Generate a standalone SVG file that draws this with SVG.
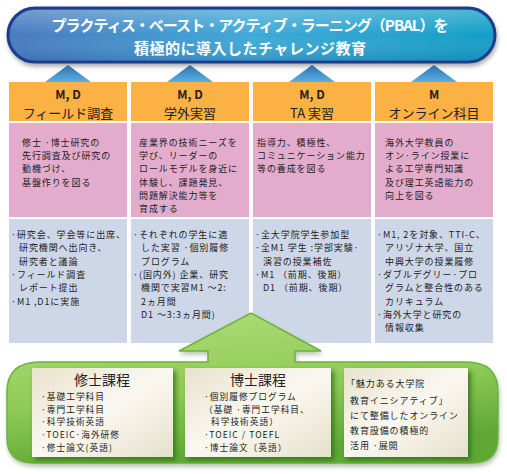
<svg xmlns="http://www.w3.org/2000/svg" width="507" height="474" viewBox="0 0 507 474">
<defs>
<linearGradient id="gTitle" x1="0" y1="0" x2="1" y2="0">
<stop offset="0" stop-color="#4a79bf"/>
<stop offset="0.5" stop-color="#3fa9d6"/>
<stop offset="1" stop-color="#139ec6"/>
</linearGradient>
<linearGradient id="gTitleV" x1="0" y1="0" x2="0" y2="1">
<stop offset="0" stop-color="#ffffff" stop-opacity="0.25"/>
<stop offset="0.5" stop-color="#ffffff" stop-opacity="0"/>
<stop offset="1" stop-color="#0a2a70" stop-opacity="0.15"/>
</linearGradient>
<linearGradient id="gTri" x1="0" y1="0" x2="0" y2="1">
<stop offset="0" stop-color="#2b74b6"/>
<stop offset="1" stop-color="#5aaedf"/>
</linearGradient>
<linearGradient id="gGreen" x1="0" y1="0" x2="0.3" y2="1">
<stop offset="0" stop-color="#b3dd7c"/>
<stop offset="0.6" stop-color="#8fca56"/>
<stop offset="1" stop-color="#5ea835"/>
</linearGradient>
<linearGradient id="gCream" x1="0" y1="0" x2="1" y2="1">
<stop offset="0" stop-color="#e8e2cc"/>
<stop offset="0.5" stop-color="#fbf8f1"/>
<stop offset="1" stop-color="#e6e0ca"/>
</linearGradient>
<filter id="shTitle" x="-5%" y="-20%" width="110%" height="150%">
<feDropShadow dx="1" dy="3" stdDeviation="2" flood-color="#555" flood-opacity="0.5"/>
</filter>
<filter id="shBox" x="-10%" y="-10%" width="125%" height="130%">
<feDropShadow dx="3" dy="3" stdDeviation="2.5" flood-color="#2f6a18" flood-opacity="0.8"/>
</filter>
<filter id="shPanel" x="-5%" y="-10%" width="110%" height="130%">
<feDropShadow dx="1" dy="3" stdDeviation="2" flood-color="#7a8a70" flood-opacity="0.5"/>
</filter>
</defs>
<style>
text{font-family:"Noto Sans CJK JP","Noto Sans",sans-serif;fill:#222;}
.title{font-size:15px;font-weight:bold;fill:#fff;text-anchor:middle;}
.hd1{font-size:12px;font-weight:bold;text-anchor:middle;}
.hd2{font-size:13px;text-anchor:middle;}
.t{font-size:9px;letter-spacing:0.9px;}
.s{font-size:8.7px;letter-spacing:1px;}
.bt{font-size:14px;text-anchor:middle;}
.orange{fill:#fbb144;}
.pink{fill:#e3accc;}
.blue{fill:#cdd7e8;}
.tri{fill:url(#gTri);}
.cream{fill:url(#gCream);filter:url(#shBox);}
</style>
<rect width="507" height="474" fill="#fff"/>

<g id="connectors">
<polygon class="tri" points="45,82 68,65 91,82"/>
<polygon class="tri" points="167,82 190,65 213,82"/>
<polygon class="tri" points="289,82 312,65 335,82"/>
<polygon class="tri" points="411,82 434,65 457,82"/>
</g>

<g id="title">
<rect x="8" y="8" width="487" height="54" rx="27" fill="url(#gTitle)" stroke="#1c3e8e" stroke-width="3" filter="url(#shTitle)"/>
<rect x="10" y="10" width="483" height="50" rx="25" fill="url(#gTitleV)"/>
<text class="title" x="250" y="31" textLength="397" lengthAdjust="spacing">プラクティス・ベースト・アクティブ・ラーニング（PBAL）を</text>
<text class="title" x="250" y="54" textLength="232" lengthAdjust="spacing">積極的に導入したチャレンジ教育</text>
</g>

<g id="col1">
<rect class="orange" x="9" y="82" width="118" height="39"/>
<text class="hd1" x="68" y="98.5">M, D</text>
<text class="hd2" x="68" y="117.5">フィールド調査</text>
<rect class="pink" x="9" y="123" width="118" height="94"/>
<text class="t" x="22" y="146">修士 ·博士研究の</text>
<text class="t" x="22" y="159.2">先行調査及び研究の</text>
<text class="t" x="22" y="172.4">動機づけ、</text>
<text class="t" x="22" y="185.6">基盤作りを図る</text>
<rect class="blue" x="9" y="219" width="118" height="124"/>
<text class="t" x="11" y="238">·研究会、学会等に出席、</text>
<text class="t" x="19" y="251.3">研究機関へ出向き、</text>
<text class="t" x="19" y="264.6">研究者と議論</text>
<text class="t" x="11" y="278">·フィールド調査</text>
<text class="t" x="19" y="291.3">レポート提出</text>
<text class="t" x="11" y="304.6">·M1 ,D1に実施</text>
</g>

<g id="col2">
<rect class="orange" x="131" y="82" width="118" height="39"/>
<text class="hd1" x="190" y="98.5">M, D</text>
<text class="hd2" x="190" y="117.5">学外実習</text>
<rect class="pink" x="131" y="123" width="118" height="94"/>
<text class="t" x="139" y="146">産業界の技術ニーズを</text>
<text class="t" x="139" y="159.2">学び、リーダーの</text>
<text class="t" x="139" y="172.4">ロールモデルを身近に</text>
<text class="t" x="139" y="185.6">体験し、課題発見、</text>
<text class="t" x="139" y="198.8">問題解決能力等を</text>
<text class="t" x="139" y="212">育成する</text>
<rect class="blue" x="131" y="219" width="118" height="124"/>
<text class="t" x="133" y="238">·それぞれの学生に適</text>
<text class="t" x="141" y="251.3">した実習 ·個別履修</text>
<text class="t" x="141" y="264.6">プログラム</text>
<text class="t" x="133" y="278">·(国内外) 企業、研究</text>
<text class="t" x="141" y="291.3">機関で実習M1 ～2:</text>
<text class="t" x="141" y="304.6">2ヵ月間</text>
<text class="t" x="141" y="318">D1 ～3:3ヵ月間)</text>
</g>

<g id="col3">
<rect class="orange" x="253" y="82" width="118" height="39"/>
<text class="hd1" x="312" y="98.5">M, D</text>
<text class="hd2" x="312" y="117.5">TA 実習</text>
<rect class="pink" x="253" y="123" width="118" height="94"/>
<text class="t" x="257" y="146">指導力、積極性、</text>
<text class="t" x="257" y="159.2">コミュニケーション能力</text>
<text class="t" x="257" y="172.4">等の養成を図る</text>
<rect class="blue" x="253" y="219" width="118" height="124"/>
<text class="t" x="255" y="238">·全大学院学生参加型</text>
<text class="t" x="255" y="251.3">·全M1 学生 :学部実験·</text>
<text class="t" x="263" y="264.6">演習の授業補佐</text>
<text class="t" x="255" y="278">·M1 （前期、後期）</text>
<text class="t" x="263" y="291.3">D1 （前期、後期）</text>
</g>

<g id="col4">
<rect class="orange" x="375" y="82" width="118" height="39"/>
<text class="hd1" x="434" y="98.5">M</text>
<text class="hd2" x="434" y="117.5">オンライン科目</text>
<rect class="pink" x="375" y="123" width="118" height="94"/>
<text class="t" x="385" y="146">海外大学教員の</text>
<text class="t" x="385" y="159.2">オン·ライン授業に</text>
<text class="t" x="385" y="172.4">よる工学専門知識</text>
<text class="t" x="385" y="185.6">及び理工英語能力の</text>
<text class="t" x="385" y="198.8">向上を図る</text>
<rect class="blue" x="375" y="219" width="118" height="124"/>
<text class="t" x="377" y="238">·M1, 2を対象、TTI-C、</text>
<text class="t" x="385" y="251.3">アリゾナ大学、国立</text>
<text class="t" x="385" y="264.6">中興大学の授業履修</text>
<text class="t" x="377" y="278">·ダブルデグリー·プロ</text>
<text class="t" x="385" y="291.3">グラムと整合性のある</text>
<text class="t" x="385" y="304.6">カリキュラム</text>
<text class="t" x="377" y="318">·海外大学と研究の</text>
<text class="t" x="385" y="331.3">情報収集</text>
</g>

<g id="foundation">
<path d="M40 362 H208 V351 H179 L251 313 L321 351 H295 V362 H466 Q498 362 498 392 V438 Q498 463 472 463 H34 Q7 463 7 438 V392 Q7 362 40 362 Z" fill="url(#gGreen)" stroke="#6ab43c" stroke-width="1.5" filter="url(#shPanel)"/>
</g>

<g id="master">
<rect class="cream" x="32" y="368" width="141" height="89"/>
<text class="bt" x="102" y="385">修士課程</text>
<text class="s" x="41" y="400">·基礎工学科目</text>
<text class="s" x="41" y="412.7">·専門工学科目</text>
<text class="s" x="41" y="425.4">·科学技術英語</text>
<text class="s" x="41" y="438.1">·TOEIC·海外研修</text>
<text class="s" x="41" y="450.8">·修士論文(英語)</text>
</g>

<g id="doctor">
<rect class="cream" x="185" y="368" width="146" height="89"/>
<text class="bt" x="258" y="385">博士課程</text>
<text class="s" x="204" y="400">·個別履修プログラム</text>
<text class="s" x="204" y="412.7">（基礎 ·専門工学科目、</text>
<text class="s" x="211" y="425.4">科学技術英語）</text>
<text class="s" x="204" y="438.1">·TOEIC / TOEFL</text>
<text class="s" x="204" y="450.8">·博士論文（英語）</text>
</g>

<g id="initiative">
<rect class="cream" x="344" y="368" width="124" height="89"/>
<text class="t" x="346" y="387">「魅力ある大学院</text>
<text class="t" x="350" y="404">教育イニシアティブ」</text>
<text class="t" x="350" y="419">にて整備したオンライン</text>
<text class="t" x="350" y="434">教育設備の積極的</text>
<text class="t" x="350" y="449">活用 ·展開</text>
</g>
</svg>
